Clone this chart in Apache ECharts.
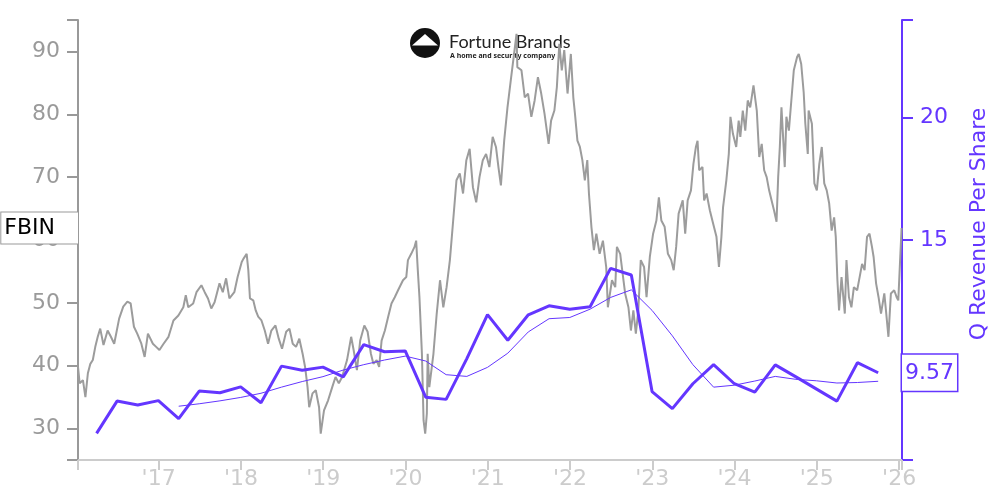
<!DOCTYPE html>
<html>
<head>
<meta charset="utf-8">
<script src="https://cdn.jsdelivr.net/npm/echarts@6/dist/echarts.min.js"></script>
<style>html,body{margin:0;padding:0;background:#fff}#chart{width:1000px;height:500px}</style>
</head>
<body>
<div id="chart"></div>
<script>
// ---------- data ----------
const ticker = 'FBIN';
const revenueName = 'Q Revenue Per Share';
const yearTicks = [2017, 2018, 2019, 2020, 2021, 2022, 2023, 2024, 2025, 2026];
const priceTicks = [30, 40, 50, 60, 70, 80, 90];
const revenueTicks = [15, 20];

const priceYears = [
  2016.02,2016.04,2016.08,2016.11,2016.14,2016.17,2016.20,2016.23,2016.26,2016.29,2016.33,2016.38,2016.42,2016.46,2016.48,
  2016.52,2016.57,2016.62,2016.66,2016.70,2016.74,2016.79,2016.83,2016.87,2016.93,2016.97,
  2017.01,2017.06,2017.12,2017.18,2017.24,2017.30,2017.33,2017.36,2017.42,2017.46,2017.52,2017.56,2017.60,2017.64,2017.68,
  2017.74,2017.78,2017.82,2017.86,2017.92,2017.96,
  2018.01,2018.03,2018.07,2018.09,2018.11,2018.15,2018.18,2018.21,2018.25,2018.29,2018.33,2018.37,2018.42,2018.46,2018.50,
  2018.55,2018.59,2018.63,2018.67,2018.71,2018.75,2018.78,2018.81,2018.83,2018.87,2018.91,2018.95,2018.97,
  2019.01,2019.06,2019.11,2019.15,2019.19,2019.23,2019.29,2019.34,2019.37,2019.41,2019.45,2019.50,2019.54,2019.58,2019.61,
  2019.65,2019.68,2019.71,2019.75,2019.79,2019.83,2019.87,2019.91,2019.97,
  2020.01,2020.03,2020.07,2020.11,2020.13,2020.15,2020.17,2020.20,2020.22,2020.24,2020.26,2020.27,2020.29,2020.34,2020.38,
  2020.42,2020.46,2020.50,2020.54,2020.58,2020.62,2020.66,2020.70,2020.74,2020.78,2020.82,2020.86,2020.90,2020.94,2020.98,
  2021.02,2021.06,2021.10,2021.13,2021.16,2021.20,2021.24,2021.28,2021.32,2021.35,2021.36,2021.41,2021.45,2021.49,2021.53,
  2021.57,2021.61,2021.65,2021.69,2021.74,2021.77,2021.81,2021.84,2021.87,2021.90,2021.93,2021.97,
  2022.01,2022.04,2022.06,2022.09,2022.12,2022.15,2022.18,2022.21,2022.23,2022.26,2022.29,2022.32,2022.36,2022.40,2022.44,
  2022.46,2022.51,2022.55,2022.57,2022.61,2022.64,2022.67,2022.71,2022.74,2022.77,2022.80,2022.83,2022.86,2022.90,2022.93,2022.97,
  2023.01,2023.05,2023.08,2023.11,2023.15,2023.19,2023.23,2023.26,2023.29,2023.32,2023.37,2023.40,2023.43,2023.47,2023.50,
  2023.53,2023.55,2023.57,2023.61,2023.63,2023.66,2023.70,2023.74,2023.78,2023.81,2023.84,2023.86,2023.90,2023.93,2023.95,2023.98,
  2024.02,2024.05,2024.07,2024.10,2024.13,2024.16,2024.19,2024.23,2024.27,2024.30,2024.33,2024.36,2024.39,2024.42,2024.45,
  2024.48,2024.51,2024.53,2024.55,2024.57,2024.61,2024.63,2024.66,2024.69,2024.72,2024.76,2024.78,2024.81,2024.84,2024.86,
  2024.89,2024.90,2024.94,2024.97,
  2025.00,2025.03,2025.06,2025.09,2025.12,2025.15,2025.18,2025.21,2025.23,2025.25,2025.27,2025.30,2025.34,2025.36,2025.39,
  2025.42,2025.45,2025.49,2025.52,2025.55,2025.58,2025.61,2025.64,2025.67,2025.69,2025.72,2025.75,2025.78,2025.82,2025.84,
  2025.87,2025.90,2025.94,2025.97,2025.99,2026.01,2026.03
];
const priceValues = [
  39.8,37.2,37.7,35.0,38.8,40.3,40.9,43.0,44.6,45.9,43.3,45.6,44.6,43.5,43.3,
  47.5,49.4,50.2,49.9,46.2,45.1,43.5,41.4,45.1,43.5,43.0,
  42.5,43.5,44.6,47.2,48.0,49.3,51.2,49.3,49.9,51.7,52.8,51.7,50.7,49.1,50.1,
  53.1,51.7,53.9,50.7,51.7,54.1,
  56.5,57.0,57.8,55.2,50.7,50.4,48.8,47.8,47.2,45.6,43.5,45.6,46.4,44.3,42.7,
  45.4,45.9,43.5,43.0,44.3,41.9,39.8,36.6,33.4,35.6,36.1,33.4,29.2,
  32.9,34.5,36.6,38.2,37.2,38.2,40.9,44.6,42.5,39.3,44.0,46.4,45.4,41.9,40.3,
  40.9,39.8,44.0,45.6,47.8,49.9,50.9,52.0,53.6,
  54.1,56.8,57.8,58.9,59.9,55.2,50.9,41.9,31.3,29.2,32.4,41.9,36.6,41.9,48.3,
  53.6,49.3,52.5,56.8,63.1,69.5,70.6,67.4,72.7,74.5,68.4,66.0,70.0,72.7,73.7,
  71.6,76.4,74.8,71.6,68.7,75.8,81.1,85.4,89.6,92.8,87.5,87.0,82.7,83.3,79.6,
  82.2,85.9,83.3,80.1,75.3,79.0,80.6,84.3,91.2,87.0,90.2,83.3,
  89.6,82.7,80.1,75.8,74.8,72.7,69.5,72.7,67.4,62.1,58.4,61.0,57.8,59.9,55.7,
  49.3,53.6,52.5,58.9,57.8,54.6,51.5,49.3,45.6,48.8,45.1,48.8,56.8,55.7,50.9,57.3,
  61.0,63.1,66.8,63.1,62.1,57.8,56.8,55.2,58.9,64.2,66.3,61.0,66.3,67.9,72.1,
  74.8,75.8,71.1,71.6,66.3,67.4,64.7,62.6,60.5,55.7,60.5,65.2,69.5,73.7,79.6,76.9,
  74.8,79.0,76.4,80.6,77.4,82.2,81.1,84.6,80.6,73.2,75.3,71.1,70.0,67.9,66.3,
  64.7,62.9,70.0,74.8,81.1,71.6,79.6,77.4,82.2,87.0,89.1,89.6,88.0,83.5,78.5,
  73.7,80.6,78.5,69.0,
  67.9,72.1,74.8,69.0,67.9,65.8,61.5,63.6,60.5,53.6,48.8,54.1,48.3,56.8,50.9,
  49.3,52.5,52.0,54.1,56.2,55.2,60.5,61.0,58.9,57.3,53.1,50.9,48.3,51.5,48.8,
  44.6,51.5,52.0,50.9,50.4,56.2,61.9
];

const quarterDates = [
  '2016-03-31','2016-06-30','2016-09-30','2016-12-31',
  '2017-03-31','2017-06-30','2017-09-30','2017-12-31',
  '2018-03-31','2018-06-30','2018-09-30','2018-12-31',
  '2019-03-31','2019-06-30','2019-09-30','2019-12-31',
  '2020-03-31','2020-06-30','2020-09-30','2020-12-31',
  '2021-03-31','2021-06-30','2021-09-30','2021-12-31',
  '2022-03-31','2022-06-30','2022-09-30','2022-12-31',
  '2023-03-31','2023-06-30','2023-09-30','2023-12-31',
  '2024-03-31','2024-06-30','2024-09-30','2024-12-31',
  '2025-03-31','2025-06-30','2025-09-30'
];
const revenuePerShare = [
  7.09,8.41,8.25,8.43, 7.69,8.82,8.75,8.99, 8.34,9.84,9.67,9.80, 9.40,10.72,10.43,10.46,
  8.57,8.48,10.15,11.95, 10.90,11.94,12.31,12.17, 12.27,13.84,13.57,8.80, 8.10,9.12,9.90,9.12,
  8.78,9.89,9.40,8.90, 8.41,9.98,9.57
];
const revenueAvg4Q = [
  null,null,null,null, 8.20,8.30,8.42,8.56, 8.73,8.98,9.21,9.41, 9.68,9.90,10.09,10.25,
  10.05,9.49,9.42,9.79, 10.37,11.24,11.78,11.83, 12.17,12.65,12.96,12.12, 11.08,9.90,8.98,9.06,
  9.23,9.42,9.30,9.24, 9.15,9.17,9.22
];
const lastRevenue = 9.57;

// ---------- helpers ----------
function toYear(s) {
  const d = new Date(s + 'T00:00:00Z');
  const y = d.getUTCFullYear();
  const a = Date.UTC(y, 0, 1), b = Date.UTC(y + 1, 0, 1);
  return y + (d.getTime() - a) / (b - a);
}
const xMin = 2016.02, xMax = 2026.035;
const purple = '#6436ff';
const font = 'DejaVu Sans';

const priceData = priceYears.map((y, i) => [y, priceValues[i]]);
const revData = quarterDates.map((d, i) => [toYear(d), revenuePerShare[i]]);
const avgData = quarterDates.map((d, i) => [toYear(d), revenueAvg4Q[i]]);
const lastPrice = priceValues[priceValues.length - 1];

const chart = echarts.init(document.getElementById('chart'), null, {renderer: 'canvas'});
chart.setOption({
  animation: false,
  backgroundColor: '#fff',
  textStyle: {fontFamily: font},
  grid: {left: 78, right: 98, top: 20, bottom: 40, containLabel: false},
  graphic: [
    {type: 'circle', z: 0, shape: {cx: 425, cy: 43, r: 15}, style: {fill: '#111'}},
    {type: 'polygon', z: 0, shape: {points: [[425, 34], [412, 45.5], [438, 45.5]]}, style: {fill: '#fff'}},
    {type: 'text', z: 0, style: {text: 'Fortune Brands', x: 449, y: 42, font: '18px Lato', fill: '#222', verticalAlign: 'middle'}},
    {type: 'text', z: 0, style: {text: 'A home and security company', x: 450, y: 56, font: 'bold 7px "Noto Sans"', fill: '#222', verticalAlign: 'middle'}}
  ],
  xAxis: {
    type: 'value', min: xMin, max: xMax,
    axisLine: {show: true, onZero: false, lineStyle: {color: '#cccccc', width: 2}},
    axisTick: {show: true, customValues: [xMin].concat(yearTicks, [xMax]), length: 10, lineStyle: {color: '#cccccc', width: 2}},
    axisLabel: {customValues: yearTicks, formatter: v => "'" + String(Math.round(v)).slice(2), color: '#cccccc', fontSize: 22, margin: 8},
    splitLine: {show: false}
  },
  yAxis: [
    {
      type: 'value', position: 'left', min: 25, max: 95,
      axisLine: {show: true, lineStyle: {color: '#999999', width: 2}},
      axisTick: {show: true, customValues: [25].concat(priceTicks, [95]), length: 11, lineStyle: {color: '#999999', width: 2}},
      axisLabel: {customValues: priceTicks, color: '#9a9a9a', fontSize: 22, margin: 18},
      splitLine: {show: false},
      axisPointer: {
        show: true, type: 'none', status: 'show', value: lastPrice, triggerTooltip: false,
        label: {show: true, formatter: () => ticker, margin: 0, color: '#000', fontSize: 22, fontFamily: font,
          backgroundColor: '#fff', borderColor: '#999', borderWidth: 1, borderRadius: 0, padding: [5, 23, 4, 3], shadowBlur: 0}
      }
    },
    {
      type: 'value', position: 'right', min: 6, max: 24,
      name: revenueName, nameLocation: 'middle', nameGap: 66,
      nameTextStyle: {color: purple, fontSize: 22, padding: [0, 0, 0, 32]},
      axisLine: {show: true, lineStyle: {color: purple, width: 2}},
      axisTick: {show: true, customValues: [6].concat(revenueTicks, [24]), length: 11, lineStyle: {color: purple, width: 2}},
      axisLabel: {customValues: revenueTicks, color: purple, fontSize: 22, margin: 18},
      splitLine: {show: false},
      axisPointer: {
        show: true, type: 'none', status: 'show', value: lastRevenue, triggerTooltip: false,
        label: {show: true, formatter: p => Number(p.value).toFixed(2), margin: 0, color: purple, fontSize: 22, fontFamily: font,
          backgroundColor: '#fff', borderColor: purple, borderWidth: 1.5, borderRadius: 0, padding: [8, 3, 6, 3], shadowBlur: 0}
      }
    }
  ],
  series: [
    {name: ticker, type: 'line', yAxisIndex: 0, data: priceData, showSymbol: false, symbol: 'none', z: 2,
      lineStyle: {color: '#9c9c9c', width: 2}},
    {name: revenueName + ' avg', type: 'line', yAxisIndex: 1, data: avgData, showSymbol: false, symbol: 'none', z: 3,
      connectNulls: false, lineStyle: {color: purple, width: 1}},
    {name: revenueName, type: 'line', yAxisIndex: 1, data: revData, showSymbol: false, symbol: 'none', z: 4,
      lineStyle: {color: purple, width: 3}}
  ]
});
</script>
</body>
</html>
